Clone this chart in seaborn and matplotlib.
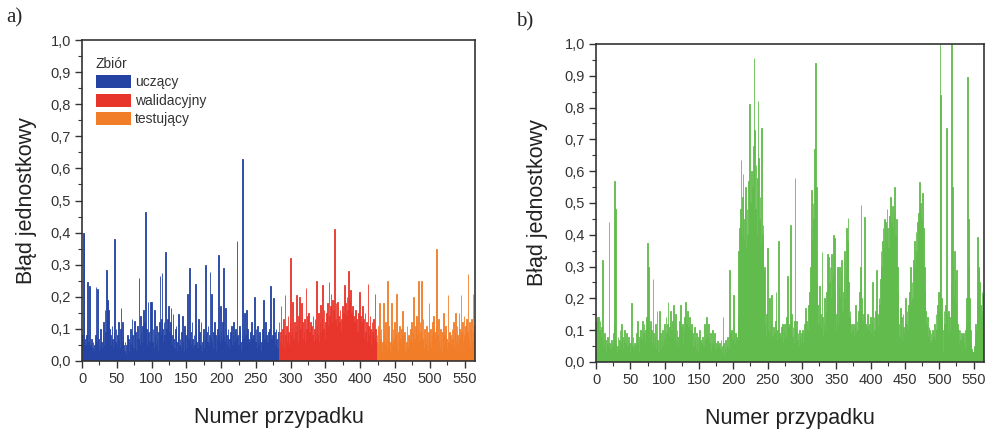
# plot.py
# unit error per case: a) per data subset, b) second model

import numpy as np
import pandas as pd
from matplotlib import pyplot as plt
from matplotlib.patches import Patch
from matplotlib.ticker import MultipleLocator, FuncFormatter
import seaborn as sns

sns.set_style("ticks")
plt.rcParams['font.family'] = ['Liberation Sans', 'DejaVu Sans']

# --- data ---
set_names = ['uczący', 'walidacyjny', 'testujący']
set_colors = ['#2443a3', '#e8352b', '#f27d28']
green = '#62bb4d'

# panel a), cases 1-282
err_train = [
    0.08, 0.40, 0.40, 0.07, 0.05, 0.08, 0.03, 0.245, 0.06, 0.04, 0.235, 0.05, 0.02, 0.07, 0.04, 0.06, 0.03, 0.05, 0.08, 0.23,
    0.06, 0.225, 0.04, 0.07, 0.03, 0.05, 0.10, 0.06, 0.04, 0.08, 0.12, 0.05, 0.16, 0.09, 0.285, 0.07, 0.19, 0.16, 0.06, 0.10,
    0.08, 0.05, 0.11, 0.07, 0.04, 0.09, 0.38, 0.06, 0.10, 0.05, 0.08, 0.12, 0.07, 0.04, 0.10, 0.165, 0.06, 0.12, 0.08, 0.05,
    0.03, 0.06, 0.02, 0.05, 0.08, 0.04, 0.07, 0.03, 0.06, 0.10, 0.05, 0.13, 0.08, 0.04, 0.125, 0.06, 0.09, 0.03, 0.07, 0.11,
    0.07, 0.26, 0.05, 0.14, 0.09, 0.06, 0.11, 0.16, 0.08, 0.12, 0.465, 0.07, 0.10, 0.05, 0.185, 0.09, 0.06, 0.185, 0.08, 0.185,
    0.06, 0.10, 0.04, 0.16, 0.08, 0.05, 0.11, 0.07, 0.03, 0.09, 0.12, 0.265, 0.08, 0.13, 0.273, 0.10, 0.06, 0.12, 0.08, 0.34,
    0.10, 0.07, 0.13, 0.17, 0.06, 0.09, 0.12, 0.165, 0.05, 0.08, 0.145, 0.07, 0.04, 0.10, 0.11, 0.06, 0.03, 0.08, 0.145, 0.05,
    0.07, 0.04, 0.09, 0.14, 0.06, 0.03, 0.11, 0.05, 0.08, 0.04, 0.10, 0.21, 0.07, 0.06, 0.29, 0.09, 0.05, 0.12, 0.07, 0.04,
    0.08, 0.05, 0.24, 0.10, 0.06, 0.04, 0.13, 0.07, 0.09, 0.05, 0.12, 0.03, 0.06, 0.08, 0.10, 0.04, 0.07, 0.298, 0.09, 0.06,
    0.11, 0.05, 0.08, 0.277, 0.07, 0.21, 0.06, 0.04, 0.09, 0.12, 0.05, 0.08, 0.03, 0.07, 0.10, 0.33, 0.08, 0.06, 0.17, 0.09,
    0.07, 0.12, 0.29, 0.08, 0.06, 0.165, 0.10, 0.05, 0.08, 0.10, 0.04, 0.07, 0.09, 0.06, 0.11, 0.05, 0.08, 0.12, 0.06, 0.09,
    0.10, 0.07, 0.373, 0.08, 0.05, 0.11, 0.09, 0.06, 0.03, 0.08, 0.63, 0.07, 0.10, 0.15, 0.08, 0.16, 0.05, 0.10, 0.07, 0.04,
    0.06, 0.09, 0.05, 0.12, 0.07, 0.03, 0.08, 0.20, 0.06, 0.10, 0.04, 0.11, 0.07, 0.05, 0.09, 0.08, 0.03, 0.06, 0.10, 0.05,
    0.19, 0.07, 0.05, 0.12, 0.08, 0.04, 0.06, 0.09, 0.05, 0.10, 0.235, 0.07, 0.03, 0.08, 0.195, 0.06, 0.09, 0.05, 0.10, 0.07, 0.04, 0.09,
]
# cases 283-423
err_valid = [
    0.12, 0.06, 0.09, 0.17, 0.05, 0.10, 0.07, 0.13, 0.04, 0.205, 0.08, 0.11, 0.06, 0.14, 0.09, 0.05, 0.12, 0.32, 0.08, 0.10,
    0.185, 0.07, 0.12, 0.05, 0.09, 0.205, 0.11, 0.06, 0.14, 0.08, 0.20, 0.10, 0.05, 0.18, 0.12, 0.07, 0.09, 0.13, 0.06, 0.227,
    0.10, 0.14, 0.07, 0.15, 0.09, 0.12, 0.05, 0.11, 0.08, 0.14, 0.06, 0.10, 0.13, 0.07, 0.25, 0.11, 0.08, 0.15, 0.06, 0.12,
    0.175, 0.09, 0.13, 0.237, 0.10, 0.16, 0.07, 0.12, 0.15, 0.09, 0.18, 0.11, 0.245, 0.14, 0.17, 0.21, 0.12, 0.19, 0.10, 0.16,
    0.41, 0.13, 0.18, 0.11, 0.185, 0.08, 0.14, 0.12, 0.16, 0.09, 0.13, 0.17, 0.10, 0.15, 0.237, 0.12, 0.18, 0.14, 0.20, 0.16,
    0.28, 0.13, 0.19, 0.22, 0.15, 0.11, 0.17, 0.14, 0.08, 0.12, 0.16, 0.10, 0.13, 0.09, 0.15, 0.11, 0.216, 0.14, 0.08, 0.12,
    0.17, 0.10, 0.13, 0.07, 0.15, 0.09, 0.12, 0.06, 0.24, 0.11, 0.08, 0.14, 0.10, 0.05, 0.12, 0.09, 0.13, 0.07, 0.21, 0.10, 0.06,
]
# cases 424-565
err_test = [
    0.08, 0.05, 0.11, 0.04, 0.18, 0.07, 0.10, 0.03, 0.06, 0.18, 0.09, 0.05, 0.12, 0.07, 0.04, 0.25, 0.08, 0.11, 0.06, 0.03,
    0.09, 0.18, 0.05, 0.10, 0.07, 0.12, 0.04, 0.08, 0.21, 0.06, 0.03, 0.09, 0.11, 0.05, 0.07, 0.10, 0.04, 0.155, 0.08, 0.05,
    0.09, 0.03, 0.06, 0.11, 0.04, 0.08, 0.02, 0.07, 0.10, 0.05, 0.12, 0.06, 0.09, 0.20, 0.07, 0.11, 0.05, 0.14, 0.08, 0.10,
    0.25, 0.06, 0.12, 0.09, 0.25, 0.07, 0.13, 0.04, 0.10, 0.08, 0.05, 0.11, 0.07, 0.03, 0.09, 0.18, 0.06, 0.10, 0.04, 0.08,
    0.12, 0.14, 0.05, 0.09, 0.07, 0.11, 0.35, 0.08, 0.13, 0.06, 0.04, 0.10, 0.07, 0.03, 0.09, 0.06, 0.15, 0.08, 0.05, 0.11,
    0.07, 0.04, 0.205, 0.06, 0.09, 0.03, 0.08, 0.05, 0.10, 0.07, 0.12, 0.04, 0.09, 0.15, 0.06, 0.11, 0.08, 0.05, 0.15, 0.10,
    0.07, 0.205, 0.09, 0.12, 0.06, 0.14, 0.08, 0.11, 0.05, 0.13, 0.09, 0.27, 0.07, 0.12, 0.04, 0.10, 0.13, 0.06, 0.21, 0.09, 0.11, 0.05,
]

# panel b), cases 1-565
err_b = [
    0.13, 0.14, 0.12, 0.14, 0.10, 0.13, 0.08, 0.11, 0.32, 0.07, 0.05, 0.09, 0.04, 0.07, 0.03, 0.06, 0.08, 0.05, 0.44, 0.06,
    0.04, 0.02, 0.07, 0.05, 0.09, 0.12, 0.57, 0.48, 0.06, 0.03, 0.05, 0.08, 0.04, 0.07, 0.10, 0.06, 0.12, 0.05, 0.08, 0.04,
    0.07, 0.10, 0.06, 0.09, 0.03, 0.05, 0.08, 0.04, 0.06, 0.03, 0.07, 0.185, 0.05, 0.08, 0.04, 0.06, 0.02, 0.05, 0.09, 0.13,
    0.06, 0.03, 0.08, 0.05, 0.10, 0.07, 0.04, 0.13, 0.09, 0.12, 0.06, 0.10, 0.08, 0.14, 0.375, 0.30, 0.11, 0.08, 0.13, 0.07,
    0.10, 0.06, 0.26, 0.09, 0.05, 0.08, 0.12, 0.04, 0.16, 0.07, 0.03, 0.16, 0.06, 0.09, 0.04, 0.07, 0.10, 0.05, 0.08, 0.12,
    0.07, 0.14, 0.09, 0.12, 0.19, 0.08, 0.11, 0.16, 0.06, 0.10, 0.13, 0.07, 0.18, 0.09, 0.12, 0.15, 0.06, 0.10, 0.08, 0.05,
    0.09, 0.13, 0.18, 0.07, 0.11, 0.12, 0.06, 0.10, 0.14, 0.19, 0.08, 0.12, 0.16, 0.09, 0.11, 0.14, 0.07, 0.10, 0.12, 0.06,
    0.09, 0.05, 0.11, 0.07, 0.04, 0.09, 0.06, 0.03, 0.08, 0.05, 0.10, 0.07, 0.04, 0.06, 0.08, 0.03, 0.05, 0.12, 0.07, 0.04,
    0.14, 0.08, 0.05, 0.12, 0.06, 0.04, 0.09, 0.03, 0.06, 0.10, 0.05, 0.07, 0.09, 0.04, 0.06, 0.03, 0.065, 0.05, 0.02, 0.06,
    0.04, 0.07, 0.03, 0.05, 0.14, 0.06, 0.02, 0.04, 0.07, 0.03, 0.05, 0.08, 0.04, 0.29, 0.06, 0.09, 0.10, 0.05, 0.07, 0.21,
    0.12, 0.06, 0.09, 0.05, 0.08, 0.07, 0.15, 0.35, 0.42, 0.48, 0.635, 0.40, 0.52, 0.59, 0.38, 0.45, 0.50, 0.55, 0.36, 0.48,
    0.40, 0.57, 0.45, 0.81, 0.50, 0.60, 0.42, 0.55, 0.68, 0.955, 0.73, 0.48, 0.62, 0.40, 0.58, 0.82, 0.64, 0.45, 0.52, 0.37,
    0.735, 0.40, 0.43, 0.28, 0.30, 0.12, 0.08, 0.15, 0.06, 0.357, 0.10, 0.07, 0.20, 0.09, 0.12, 0.21, 0.08, 0.11, 0.05, 0.09,
    0.13, 0.22, 0.07, 0.10, 0.06, 0.38, 0.09, 0.05, 0.08, 0.11, 0.07, 0.12, 0.06, 0.10, 0.12, 0.08, 0.14, 0.09, 0.27, 0.11,
    0.07, 0.12, 0.43, 0.09, 0.15, 0.08, 0.11, 0.06, 0.13, 0.578, 0.10, 0.13, 0.07, 0.09, 0.05, 0.10, 0.08, 0.06, 0.09, 0.07,
    0.10, 0.06, 0.09, 0.12, 0.17, 0.08, 0.13, 0.10, 0.18, 0.14, 0.22, 0.30, 0.42, 0.54, 0.38, 0.50, 0.45, 0.67, 0.60, 0.94,
    0.55, 0.25, 0.18, 0.12, 0.24, 0.09, 0.15, 0.11, 0.347, 0.14, 0.08, 0.12, 0.20, 0.10, 0.16, 0.22, 0.34, 0.18, 0.33, 0.25,
    0.30, 0.20, 0.34, 0.26, 0.28, 0.40, 0.39, 0.22, 0.15, 0.10, 0.18, 0.30, 0.12, 0.24, 0.30, 0.20, 0.28, 0.32, 0.16, 0.22,
    0.26, 0.35, 0.20, 0.30, 0.42, 0.38, 0.452, 0.25, 0.14, 0.16, 0.09, 0.12, 0.07, 0.10, 0.12, 0.08, 0.11, 0.18, 0.09, 0.13,
    0.10, 0.16, 0.12, 0.22, 0.30, 0.494, 0.20, 0.13, 0.10, 0.15, 0.457, 0.12, 0.08, 0.11, 0.15, 0.06, 0.10, 0.12, 0.07, 0.14,
    0.09, 0.13, 0.25, 0.08, 0.14, 0.10, 0.16, 0.12, 0.29, 0.15, 0.11, 0.20, 0.18, 0.26, 0.35, 0.30, 0.38, 0.42, 0.36, 0.45,
    0.40, 0.44, 0.38, 0.48, 0.42, 0.36, 0.46, 0.40, 0.52, 0.44, 0.38, 0.49, 0.42, 0.47, 0.55, 0.40, 0.35, 0.45, 0.30, 0.22,
    0.12, 0.08, 0.17, 0.10, 0.14, 0.07, 0.15, 0.11, 0.09, 0.13, 0.20, 0.12, 0.16, 0.10, 0.18, 0.14, 0.22, 0.30, 0.19, 0.25,
    0.20, 0.32, 0.26, 0.38, 0.30, 0.41, 0.35, 0.44, 0.38, 0.47, 0.567, 0.40, 0.50, 0.45, 0.53, 0.36, 0.42, 0.30, 0.22, 0.16,
    0.12, 0.09, 0.14, 0.08, 0.11, 0.10, 0.06, 0.09, 0.07, 0.10, 0.05, 0.08, 0.12, 0.07, 0.15, 0.10, 0.18, 0.12, 0.22, 0.16,
    1.00, 0.84, 0.20, 0.14, 0.03, 0.10, 0.16, 0.12, 0.18, 0.735, 0.15, 0.09, 0.16, 0.12, 0.14, 0.10, 0.25, 1.00, 0.55, 0.30,
    0.20, 0.35, 0.26, 0.18, 0.29, 0.12, 0.08, 0.10, 0.06, 0.10, 0.07, 0.09, 0.05, 0.08, 0.09, 0.06, 0.04, 0.10, 0.12, 0.20,
    0.897, 0.45, 0.30, 0.20, 0.10, 0.06, 0.04, 0.03, 0.02, 0.03, 0.05, 0.08, 0.12, 0.10, 0.20, 0.394, 0.30, 0.29, 0.25, 0.18,
    0.14, 0.22, 0.16, 0.21, 0.12,
]

TXT = '#333333'


def comma(v, pos):
    return f"{v:.1f}".replace('.', ',')


def thicken(ax, lw=0.6):
    # spikes in the original are ~1.5 px wide, so outline each bar in its own colour
    for p in ax.patches:
        p.set_edgecolor(p.get_facecolor())
        p.set_linewidth(lw)


def style_axis(ax):
    ax.set_xlim(0, 565)
    ax.set_ylim(0, 1.0)
    ax.xaxis.set_major_locator(MultipleLocator(50))
    ax.xaxis.set_minor_locator(MultipleLocator(25))
    ax.yaxis.set_major_locator(MultipleLocator(0.1))
    ax.yaxis.set_minor_locator(MultipleLocator(0.05))
    ax.yaxis.set_major_formatter(FuncFormatter(comma))
    ax.tick_params(which='major', direction='out', length=5, width=1,
                   color=TXT, labelcolor=TXT, labelsize=10.5, pad=3)
    ax.tick_params(which='minor', direction='out', length=3, width=0.8, color=TXT)
    for s in ax.spines.values():
        s.set_visible(True)
        s.set_color(TXT)
        s.set_linewidth(1.2)
        s.set_zorder(5)
    ax.set_xlabel('Numer przypadku', fontsize=15.5, color='#222222', labelpad=15)
    ax.set_ylabel('Błąd jednostkowy', fontsize=15.5, color='#222222', labelpad=10)


fig = plt.figure(figsize=(9.94, 4.33), dpi=100)
ax_a = fig.add_axes([0.0825, 0.1663, 0.3954, 0.7413])
ax_b = fig.add_axes([0.5996, 0.164, 0.3903, 0.7344])

# panel a
errs_a = err_train + err_valid + err_test
df_a = pd.DataFrame({
    'case': np.arange(1, len(errs_a) + 1),
    'err': errs_a,
    'set': np.repeat(set_names, [len(err_train), len(err_valid), len(err_test)]),
})
sns.barplot(data=df_a, x='case', y='err', hue='set', hue_order=set_names,
            palette=set_colors, native_scale=True, dodge=False, width=1,
            linewidth=0, saturation=1, errorbar=None, legend=False, ax=ax_a)
thicken(ax_a)
style_axis(ax_a)
handles = [Patch(facecolor=c, edgecolor='none') for c in set_colors]
leg = ax_a.legend(handles, set_names, title='Zbiór', loc='upper left', frameon=False,
                  fontsize=10, title_fontsize=10, handlelength=2.5, handleheight=1.05,
                  handletextpad=0.3, labelspacing=0.3, alignment='left',
                  bbox_to_anchor=(0.0, 0.99), borderaxespad=0.6)
for t in leg.get_texts():
    t.set_color(TXT)
leg.get_title().set_color(TXT)

# panel b
df_b = pd.DataFrame({'case': np.arange(1, len(err_b) + 1), 'err': err_b})
sns.barplot(data=df_b, x='case', y='err', color=green, native_scale=True, width=1,
            linewidth=0, saturation=1, errorbar=None, ax=ax_b)
thicken(ax_b)
style_axis(ax_b)
ax_b.yaxis.labelpad = 12

fig.text(0.006, 0.98, 'a)', family='Liberation Serif', fontsize=15, va='top', ha='left')
fig.text(0.519, 0.972, 'b)', family='Liberation Serif', fontsize=15, va='top', ha='left')

fig.savefig('out.png', dpi=100)
